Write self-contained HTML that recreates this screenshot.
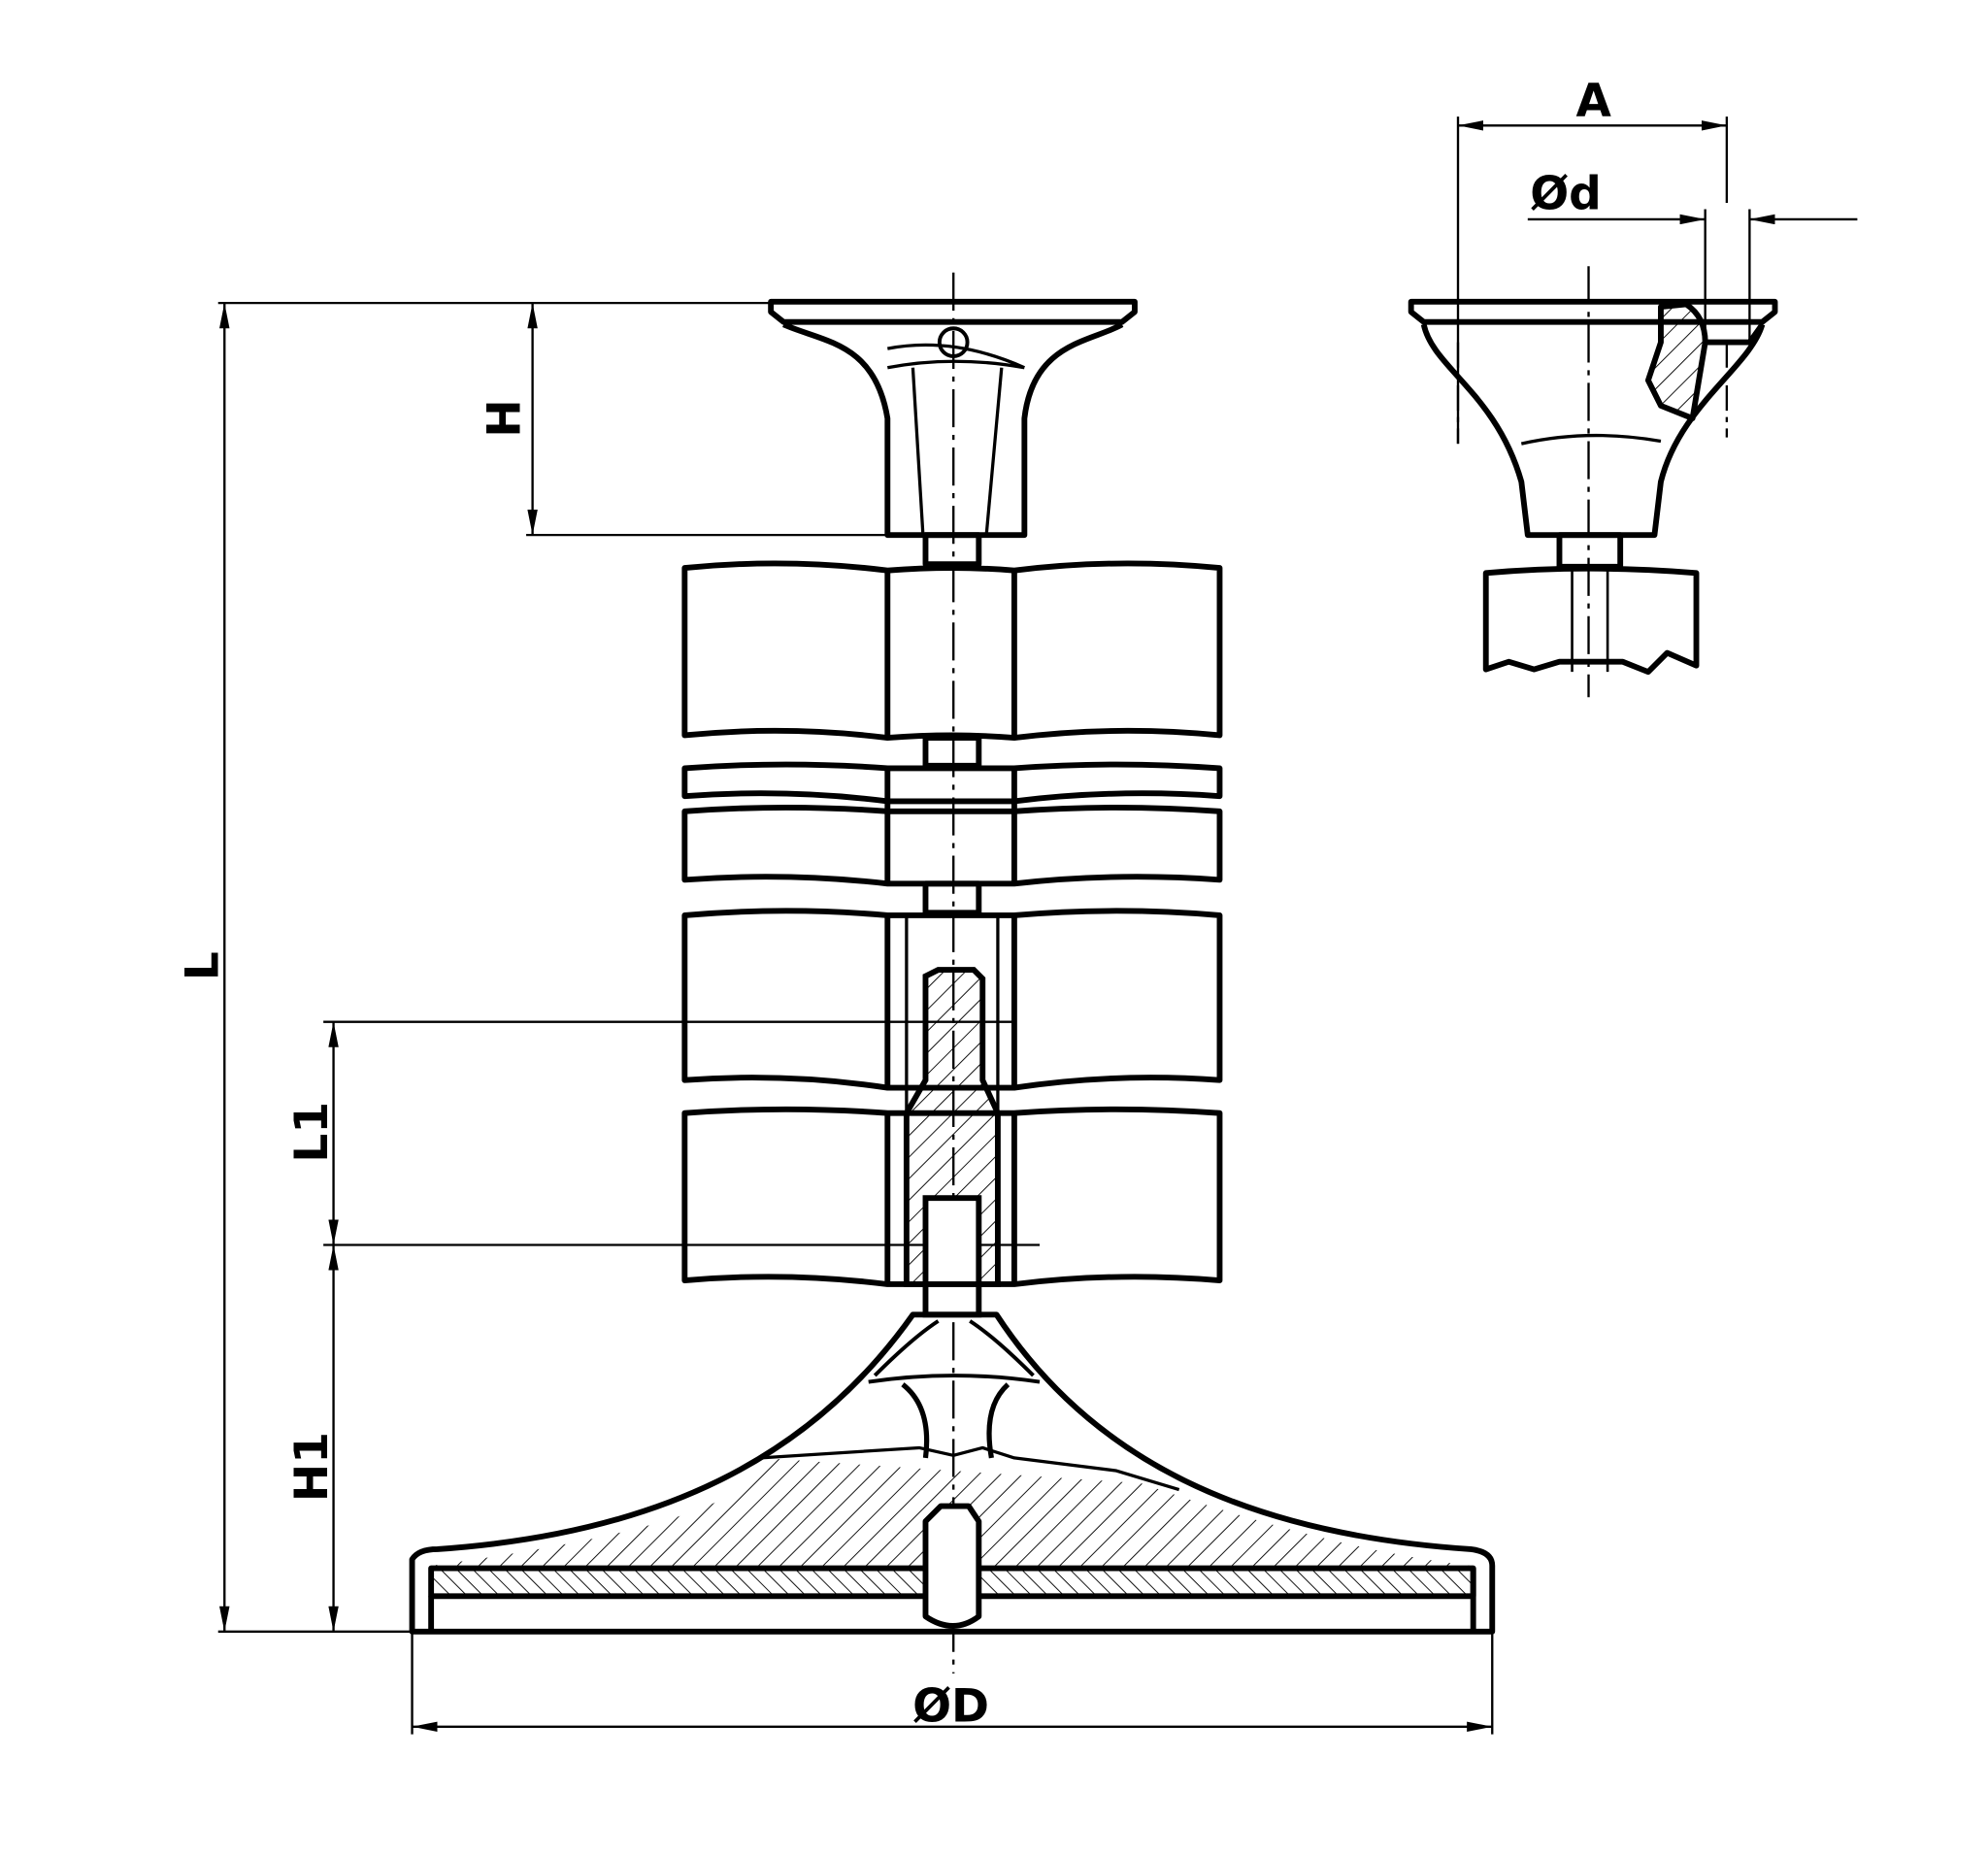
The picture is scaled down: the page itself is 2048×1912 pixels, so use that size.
<!DOCTYPE html>
<html><head><meta charset="utf-8"><style>html,body{margin:0;padding:0;background:#fff}svg{display:block}</style></head>
<body>
<svg width="2048" height="1912" viewBox="0 0 1568 1464" xmlns="http://www.w3.org/2000/svg">
<defs>
<pattern id="h" width="12" height="12" patternUnits="userSpaceOnUse" patternTransform="rotate(45)"><line x1="0" y1="0" x2="0" y2="12" stroke="#000" stroke-width="1.4"/></pattern>
<pattern id="h2" width="9" height="9" patternUnits="userSpaceOnUse" patternTransform="rotate(-45)"><line x1="0" y1="0" x2="0" y2="9" stroke="#000" stroke-width="1.4"/></pattern>
<marker id="a" viewBox="0 0 20 8" refX="20" refY="4" markerWidth="20" markerHeight="8" orient="auto-start-reverse" markerUnits="userSpaceOnUse"><path d="M0,0 L20,4 L0,8 z" fill="#000"/></marker>
</defs>
<g fill="none" stroke="#000" stroke-width="1.8">
<line x1="172" y1="239" x2="610" y2="239"/>
<line x1="172" y1="1287" x2="325" y2="1287"/>
<line x1="177" y1="239" x2="177" y2="1287" marker-start="url(#a)" marker-end="url(#a)"/>
<line x1="415" y1="422" x2="702" y2="422"/>
<line x1="420" y1="239" x2="420" y2="422" marker-start="url(#a)" marker-end="url(#a)"/>
<line x1="255" y1="806" x2="800" y2="806"/>
<line x1="255" y1="982" x2="820" y2="982"/>
<line x1="263" y1="806" x2="263" y2="982" marker-start="url(#a)" marker-end="url(#a)"/>
<line x1="263" y1="982" x2="263" y2="1287" marker-start="url(#a)" marker-end="url(#a)"/>
<line x1="325" y1="1230" x2="325" y2="1368"/>
<line x1="1177" y1="1230" x2="1177" y2="1368"/>
<line x1="325" y1="1362" x2="1177" y2="1362" marker-start="url(#a)" marker-end="url(#a)"/>
<line x1="1150" y1="92" x2="1150" y2="350"/>
<line x1="1362" y1="92" x2="1362" y2="160"/>
<line x1="1150" y1="99" x2="1362" y2="99" marker-start="url(#a)" marker-end="url(#a)"/>
<line x1="1205" y1="173" x2="1345" y2="173" marker-end="url(#a)"/>
<line x1="1465" y1="173" x2="1380" y2="173" marker-end="url(#a)"/>
<line x1="1345" y1="165" x2="1345" y2="270"/>
<line x1="1380" y1="165" x2="1380" y2="270"/>
<line x1="752" y1="215" x2="752" y2="1320" stroke-dasharray="30,6,4,6"/>
<line x1="1253" y1="210" x2="1253" y2="550" stroke-dasharray="30,6,4,6"/>
<line x1="1150" y1="270" x2="1150" y2="350" stroke-dasharray="20,5,4,5"/>
<line x1="1362" y1="270" x2="1362" y2="345" stroke-dasharray="20,5,4,5"/>
</g>
<g font-family="'DejaVu Sans','Liberation Sans',sans-serif" font-weight="bold" font-size="36" fill="#000">
<text x="0" y="0" transform="translate(172,762) rotate(-90)" text-anchor="middle">L</text>
<text x="0" y="0" transform="translate(410,330) rotate(-90)" text-anchor="middle">H</text>
<text x="0" y="0" transform="translate(258,893) rotate(-90)" text-anchor="middle">L1</text>
<text x="0" y="0" transform="translate(258,1157) rotate(-90)" text-anchor="middle">H1</text>
<text x="750" y="1358" text-anchor="middle">ØD</text>
<text x="1257" y="92" text-anchor="middle">A</text>
<text x="1235" y="165" text-anchor="middle">Ød</text>
</g>
<g fill="none" stroke="#000" stroke-width="4.5" stroke-linejoin="round">
<path d="M608,238 H895 V246 L885,254 H618 L608,246 Z"/>
<path d="M618,256 C650,270 690,270 700,330 L700,422 H808 L808,330 C815,270 860,270 885,256"/>
<path d="M720,290 L728,422 M790,290 L778,422" stroke-width="2.5"/>
<path d="M700,275 Q752,265 808,290 M700,290 Q752,280 808,290" stroke-width="2.5"/>
<circle cx="752" cy="270" r="11" stroke-width="3"/>
<rect x="730" y="422" width="42" height="23"/>
<path d="M540,448 Q620,440 700,450 Q752,446 800,450 Q880,440 962,448 V580 Q880,572 800,582 Q752,578 700,582 Q620,572 540,580 Z"/>
<line x1="700" y1="450" x2="700" y2="582"/><line x1="800" y1="450" x2="800" y2="582"/>
<rect x="730" y="582" width="42" height="22"/>
<path d="M540,606 Q620,600 700,606 H800 Q880,600 962,606 V628 Q880,622 800,632 H700 Q620,622 540,628 Z"/>
<path d="M540,640 Q620,634 700,640 H800 Q880,634 962,640 V694 Q880,688 800,697 H700 Q620,688 540,694 Z"/>
<line x1="700" y1="604" x2="700" y2="697"/><line x1="800" y1="604" x2="800" y2="697"/>
<rect x="730" y="697" width="42" height="23"/>
<path d="M540,722 Q620,715 700,722 H800 Q880,715 962,722 V852 Q880,846 800,858 H700 Q620,846 540,852 Z"/>
<path d="M540,878 Q620,872 700,878 H800 Q880,872 962,878 V1010 Q880,1003 800,1013 H700 Q620,1003 540,1010 Z"/>
<line x1="700" y1="722" x2="700" y2="858"/><line x1="800" y1="722" x2="800" y2="858"/>
<line x1="700" y1="878" x2="700" y2="1013"/><line x1="800" y1="878" x2="800" y2="1013"/>
<line x1="715" y1="722" x2="715" y2="1013" stroke-width="2.5"/><line x1="787" y1="722" x2="787" y2="1013" stroke-width="2.5"/>
</g>
<path d="M730,770 L740,765 H768 L775,772 V852 L787,878 V1013 H715 V878 L730,852 Z" fill="url(#h)" stroke="#000" stroke-width="4.5"/>
<rect x="730" y="945" width="42" height="68" fill="#fff" stroke="#000" stroke-width="4.5"/>
<rect x="730" y="1013" width="42" height="24" fill="#fff" stroke="#000" stroke-width="4.5"/>
<path d="M340,1235 Q600,1200 600,1150 L900,1170 Q1050,1222 1160,1235 Z" fill="url(#h)"/>
<g fill="none" stroke="#000" stroke-width="4.5" stroke-linejoin="round">
<path d="M325,1287 V1230 Q330,1222 345,1222 C520,1210 640,1150 720,1037 H786 C860,1150 980,1210 1160,1222 Q1177,1224 1177,1235 V1287 Z"/>
<path d="M600,1150 L725,1142 L752,1148 L775,1142 L800,1150 L880,1160 L930,1175" stroke-width="2.5"/>
<path d="M685,1090 Q752,1080 820,1090 M690,1085 Q720,1055 740,1042 M815,1085 Q785,1055 765,1042" stroke-width="3"/>
<path d="M712,1092 Q735,1110 730,1150 M795,1092 Q775,1110 782,1150" stroke-width="4"/>
<rect x="340" y="1237" width="822" height="22" fill="url(#h2)"/>
<path d="M340,1259 V1287 M1162,1237 V1287"/>
<path d="M730,1200 L742,1188 H764 L772,1200 V1275 Q752,1290 730,1275 Z" fill="#fff"/>
</g>
<g fill="none" stroke="#000" stroke-width="4.5" stroke-linejoin="round">
<path d="M1113,238 H1400 V246 L1390,254 H1123 L1113,246 Z"/>
<path d="M1123,256 C1130,290 1180,310 1200,380 L1205,422 H1305 L1310,380 C1325,320 1380,290 1390,256"/>
<path d="M1200,350 Q1253,338 1310,348" stroke-width="2.5"/>
<path d="M1310,242 L1330,240 Q1345,250 1345,270 L1340,300 L1335,330 L1310,320 L1300,300 L1310,270 Z" fill="url(#h)"/>
<path d="M1345,270 H1380 L1390,256"/>
<rect x="1230" y="422" width="48" height="25"/>
<path d="M1172,452 Q1253,445 1338,452 V525 L1315,515 L1300,530 L1280,522 H1230 L1210,528 L1190,522 L1172,528 Z"/>
<line x1="1240" y1="447" x2="1240" y2="530" stroke-width="2"/><line x1="1268" y1="447" x2="1268" y2="530" stroke-width="2"/>
</g>
</svg>
</body></html>
